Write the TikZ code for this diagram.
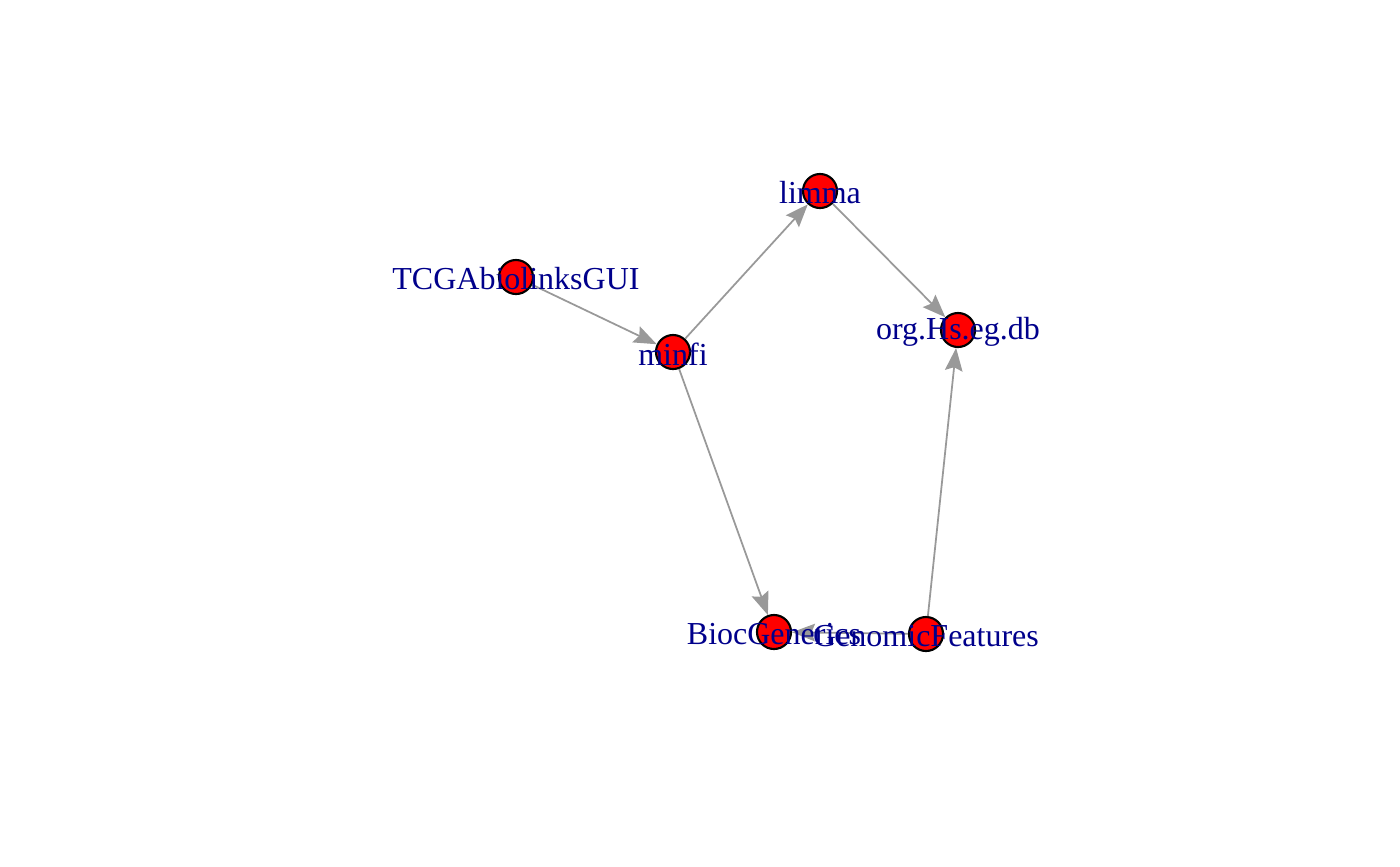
\documentclass[tikz,border=0pt]{standalone}
\usepackage{fontspec}
\setmainfont{Liberation Serif}
\usetikzlibrary{arrows.meta}
\definecolor{darkblue}{RGB}{0,0,139}
\definecolor{edgegray}{RGB}{153,153,153}
\tikzstyle{vertex} = [circle, minimum size=0.34cm, inner sep=0pt, draw=black, line width=0.6pt, fill=red]
\tikzstyle{vlabel} = [inner sep=0pt, yshift=-0.02cm, text=darkblue, font=\fontsize{9.1}{10}\selectfont]
\tikzstyle{edge} = [draw=edgegray, line width=0.5pt, -{Stealth[length=6.5pt, width=5pt, inset=1pt]}]

\begin{document}
\begin{tikzpicture}[x=0.01cm, y=-0.01cm]
    \useasboundingbox (0,0) rectangle (1400,866);
    \node [vertex]	at (516,277)	(tcga)		{};
    \node [vertex]	at (673,352)	(minfi)		{};
    \node [vertex]	at (820,191)	(limma)		{};
    \node [vertex]	at (958,330)	(orghs)		{};
    \node [vertex]	at (774,632)	(biocgen)	{};
    \node [vertex]	at (926,634)	(genfeat)	{};
    
    \draw [edge] (tcga) -- (minfi);
    \draw [edge] (minfi) -- (limma);
    \draw [edge] (limma) -- (orghs);
    \draw [edge] (minfi) -- (biocgen);
    \draw [edge] (genfeat) -- (orghs);
    \draw [edge] (genfeat) -- (biocgen);
    
    \node [vlabel]	at (tcga)		(tcga-l)		{TCGAbiolinksGUI};
    \node [vlabel]	at (minfi)		(minfi-l)		{minfi};
    \node [vlabel]	at (limma)		(limma-l)		{limma};
    \node [vlabel]	at (orghs)		(orghs-l)		{org.Hs.eg.db};
    \node [vlabel]	at (biocgen)	(biocgen-l)		{BiocGenerics};
    \node [vlabel]	at (genfeat)	(genfeat-l)		{GenomicFeatures};
\end{tikzpicture}
\end{document}
